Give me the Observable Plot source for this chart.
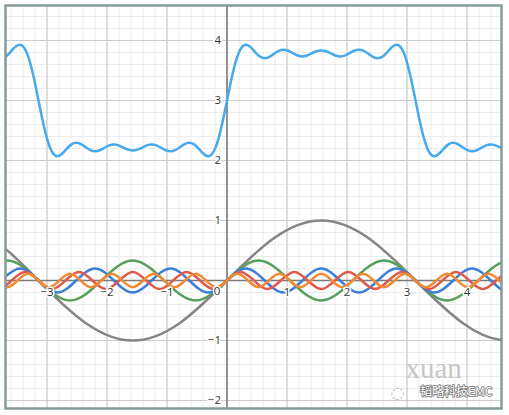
<!DOCTYPE html>
<html>
<head>
<meta charset="utf-8">
<script src="https://cdn.jsdelivr.net/npm/d3@7"></script>
<script src="https://cdn.jsdelivr.net/npm/@observablehq/plot@0.6"></script>
<style>
  html, body { margin: 0; padding: 0; background: #fff; }
</style>
</head>
<body>
<div id="chart"></div>
<script>
// Tick labels
const xTickLabels = [-3, -2, -1, 1, 2, 3, 4];
const yTickLabels = [4, 3, 2, 1, -1, -2];
const majorX = [-3, -2, -1, 0, 1, 2, 3, 4];
const majorY = [-2, -1, 0, 1, 2, 3, 4];

// Fundamental (gray)
const grayX = [-4.712, -3.927, -3.142, -2.356, -1.571, -0.785, 0, 0.785, 1.571, 2.356, 3.142, 3.927, 4.712, 5.498];
const grayY = [1, 0.707, 0, -0.707, -1, -0.707, 0, 0.707, 1, 0.707, 0, -0.707, -1, -0.707];

// 3rd harmonic (green)
const greenX = [-4.189, -3.665, -3.142, -2.618, -2.094, -1.571, -1.047, -0.524, 0, 0.524, 1.047, 1.571, 2.094, 2.618, 3.142, 3.665, 4.189, 4.712, 5.236];
const greenY = [0, 0.333, 0, -0.333, 0, 0.333, 0, -0.333, 0, 0.333, 0, -0.333, 0, 0.333, 0, -0.333, 0, 0.333, 0];

// 5th harmonic (blue)
const blueX = [-4.084, -3.770, -3.456, -3.142, -2.827, -2.513, -2.199, -1.885, -1.571, -1.257, -0.942, -0.628, -0.314, 0, 0.314, 0.628, 0.942, 1.257, 1.571, 1.885, 2.199, 2.513, 2.827, 3.142, 3.456, 3.770, 4.084, 4.398, 4.712, 5.027];
const blueY = [-0.2, 0, 0.2, 0, -0.2, 0, 0.2, 0, -0.2, 0, 0.2, 0, -0.2, 0, 0.2, 0, -0.2, 0, 0.2, 0, -0.2, 0, 0.2, 0, -0.2, 0, 0.2, 0, -0.2, 0];

// 7th harmonic (red)
const redX = [-4.039, -3.815, -3.590, -3.366, -3.142, -2.917, -2.693, -2.468, -2.244, -2.020, -1.795, -1.571, -1.346, -1.122, -0.898, -0.673, -0.449, -0.224, 0, 0.224, 0.449, 0.673, 0.898, 1.122, 1.346, 1.571, 1.795, 2.020, 2.244, 2.468, 2.693, 2.917, 3.142, 3.366, 3.590, 3.815, 4.039, 4.264, 4.488, 4.712, 4.937];
const redY = [0, -0.143, 0, 0.143, 0, -0.143, 0, 0.143, 0, -0.143, 0, 0.143, 0, -0.143, 0, 0.143, 0, -0.143, 0, 0.143, 0, -0.143, 0, 0.143, 0, -0.143, 0, 0.143, 0, -0.143, 0, 0.143, 0, -0.143, 0, 0.143, 0, -0.143, 0, 0.143, 0];

// 9th harmonic (orange)
const orangeX = [-4.014, -3.840, -3.665, -3.491, -3.316, -3.142, -2.967, -2.793, -2.618, -2.443, -2.269, -2.094, -1.920, -1.745, -1.571, -1.396, -1.222, -1.047, -0.873, -0.698, -0.524, -0.349, -0.175, 0, 0.175, 0.349, 0.524, 0.698, 0.873, 1.047, 1.222, 1.396, 1.571, 1.745, 1.920, 2.094, 2.269, 2.443, 2.618, 2.793, 2.967, 3.142, 3.316, 3.491, 3.665, 3.840, 4.014, 4.189, 4.363, 4.538, 4.712, 4.887];
const orangeY = [0.111, 0, -0.111, 0, 0.111, 0, -0.111, 0, 0.111, 0, -0.111, 0, 0.111, 0, -0.111, 0, 0.111, 0, -0.111, 0, 0.111, 0, -0.111, 0, 0.111, 0, -0.111, 0, 0.111, 0, -0.111, 0, 0.111, 0, -0.111, 0, 0.111, 0, -0.111, 0, 0.111, 0, -0.111, 0, 0.111, 0, -0.111, 0, 0.111, 0, -0.111, 0];

// Sum of harmonics, shifted up (light blue)
const sumX = [-3.770, -3.691, -3.613, -3.534, -3.456, -3.377, -3.299, -3.220, -3.142, -3.063, -2.985, -2.906, -2.827, -2.749, -2.670, -2.592, -2.513, -2.435, -2.356, -2.278, -2.199, -2.121, -2.042, -1.963, -1.885, -1.806, -1.728, -1.649, -1.571, -1.492, -1.414, -1.335, -1.257, -1.178, -1.100, -1.021, -0.942, -0.864, -0.785, -0.707, -0.628, -0.550, -0.471, -0.393, -0.314, -0.236, -0.157, -0.079, 0, 0.079, 0.157, 0.236, 0.314, 0.393, 0.471, 0.550, 0.628, 0.707, 0.785, 0.864, 0.942, 1.021, 1.100, 1.178, 1.257, 1.335, 1.414, 1.492, 1.571, 1.649, 1.728, 1.806, 1.885, 1.963, 2.042, 2.121, 2.199, 2.278, 2.356, 2.435, 2.513, 2.592, 2.670, 2.749, 2.827, 2.906, 2.985, 3.063, 3.142, 3.220, 3.299, 3.377, 3.456, 3.534, 3.613, 3.691, 3.770, 3.848, 3.927, 4.006, 4.084, 4.163, 4.241, 4.320, 4.398, 4.477, 4.555, 4.634, 4.712];
const sumY = [3.704, 3.731, 3.803, 3.888, 3.929, 3.872, 3.686, 3.380, 3.000,
  2.620, 2.314, 2.128, 2.071, 2.112, 2.197, 2.269, 2.296, 2.273, 2.221,
  2.173, 2.154, 2.171, 2.212, 2.251, 2.266, 2.251, 2.215, 2.180, 2.165,
  2.180, 2.215, 2.251, 2.266, 2.251, 2.212, 2.171, 2.154, 2.173, 2.221,
  2.273, 2.296, 2.269, 2.197, 2.112, 2.071, 2.128, 2.314, 2.620,
  3.000, 3.380, 3.686, 3.872, 3.929, 3.888, 3.803, 3.731, 3.704, 3.727, 3.779,
  3.827, 3.846, 3.829, 3.788, 3.749, 3.734, 3.749, 3.785, 3.820, 3.835,
  3.820, 3.785, 3.749, 3.734, 3.749, 3.788, 3.829, 3.846, 3.827, 3.779,
  3.727, 3.704, 3.731, 3.803, 3.888, 3.929, 3.872, 3.686, 3.380, 3.000,
  2.620, 2.314, 2.128, 2.071, 2.112, 2.197, 2.269, 2.296, 2.273, 2.221,
  2.173, 2.154, 2.171, 2.212, 2.251, 2.266, 2.251, 2.215, 2.180, 2.165];

const toRows = (xs, ys) => xs.map((x, i) => ({x, y: ys[i]}));
const gray = toRows(grayX, grayY);
const green = toRows(greenX, greenY);
const blue = toRows(blueX, blueY);
const red = toRows(redX, redY);
const orange = toRows(orangeX, orangeY);
const sum = toRows(sumX, sumY);

const lineOpts = (color) => ({x: "x", y: "y", stroke: color, strokeWidth: 2.5, curve: "natural", clip: true, strokeLinejoin: "round", strokeLinecap: "round"});

const chart = Plot.plot({
  width: 509,
  height: 415,
  marginLeft: 5,
  marginRight: 8,
  marginTop: 5,
  marginBottom: 7,
  x: {domain: [-3.692, 4.575], axis: null},
  y: {domain: [-2.133, 4.583], axis: null},
  style: {background: "#fff", fontFamily: "'Open Sans', 'DejaVu Sans', sans-serif"},
  marks: [
    Plot.gridX({ticks: 40, stroke: "#ebebeb", strokeOpacity: 1, strokeWidth: 1}),
    Plot.gridY({ticks: 33, stroke: "#ebebeb", strokeOpacity: 1, strokeWidth: 1}),
    Plot.gridX({ticks: majorX, stroke: "#cdcdcd", strokeOpacity: 1, strokeWidth: 1.2}),
    Plot.gridY({ticks: majorY, stroke: "#cdcdcd", strokeOpacity: 1, strokeWidth: 1.2}),
    Plot.ruleY([0], {stroke: "#7a7a7a", strokeWidth: 1.5}),
    Plot.ruleX([0], {stroke: "#7a7a7a", strokeWidth: 1.5}),
    Plot.line(gray, lineOpts("#858585")),
    Plot.line(green, lineOpts("#55a05a")),
    Plot.line(blue, lineOpts("#3d7fd6")),
    Plot.line(red, lineOpts("#e05a4c")),
    Plot.line(orange, lineOpts("#f28a34")),
    Plot.line(sum, lineOpts("#47a9ee")),
    Plot.text(xTickLabels, {x: d => d, y: 0, text: d => d < 0 ? "\u2212" + Math.abs(d) : String(d), dy: 12, fontSize: 11.5, fill: "#333", stroke: "#fff", strokeWidth: 3, paintOrder: "stroke"}),
    Plot.text(yTickLabels, {x: 0, y: d => d, text: d => d < 0 ? "\u2212" + Math.abs(d) : String(d), dx: -6, textAnchor: "end", fontSize: 11.5, fill: "#333", stroke: "#fff", strokeWidth: 3, paintOrder: "stroke"}),
    Plot.text([0], {x: 0, y: 0, text: d => String(d), dx: -10, dy: 11, fontSize: 11.5, fill: "#333", stroke: "#fff", strokeWidth: 3, paintOrder: "stroke"}),
    Plot.text(["xuan"], {frameAnchor: "bottom-right", lineAnchor: "middle", dx: -96, dy: -40, textAnchor: "start", text: d => d, fontSize: 29, fontFamily: "'Liberation Serif', 'DejaVu Serif', serif", fill: "#c6c6c6"}),
    Plot.text(["\u97ec\u7565\u79d1\u6280EMC"], {frameAnchor: "bottom-right", lineAnchor: "middle", dx: -9, dy: -16, textAnchor: "end", text: d => d, fontSize: 12, fontFamily: "'Noto Sans CJK SC', sans-serif", fill: "#fff", stroke: "#777", strokeWidth: 1.6, paintOrder: "stroke"}),
    Plot.text(["\u25CC"], {frameAnchor: "bottom-right", lineAnchor: "middle", dx: -97, dy: -16, text: d => d, fontSize: 16, fill: "#bbb"}),
    Plot.frame({stroke: "#879a9a", strokeWidth: 2.5})
  ]
});
document.getElementById("chart").appendChild(chart);
</script>
</body>
</html>
